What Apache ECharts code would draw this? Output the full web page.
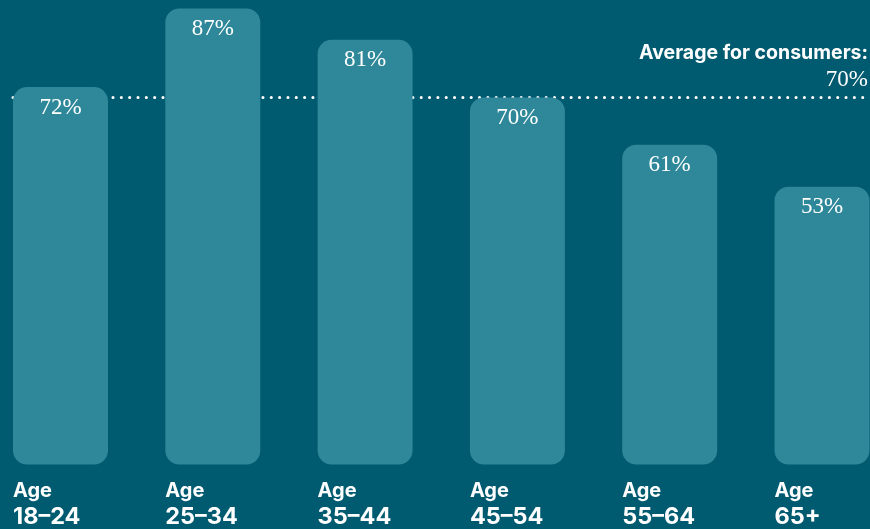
<!DOCTYPE html>
<html>
<head>
<meta charset="utf-8">
<title>Share by age group</title>
<script src="https://cdn.jsdelivr.net/npm/echarts@6/dist/echarts.min.js"></script>
<style>
  html, body { margin: 0; padding: 0; background: #005a70; }
  #chart { width: 870px; height: 529px; }
</style>
</head>
<body>
<div id="chart"></div>
<script>
// Age groups and their shares (%)
const ageGroups = ['18-24', '25-34', '35-44', '45-54', '55-64', '65+'];
const shares = [72, 87, 81, 70, 61, 53];
const averageShare = 70;
const averageLabel = 'Average for consumers:';
const valueMax = 88.6;

const chart = echarts.init(document.getElementById('chart'), null, { renderer: 'canvas' });

const sansBold = 'Inter, "Open Sans", "DejaVu Sans", sans-serif';
const serif = '"Liberation Serif", "DejaVu Serif", serif';

chart.setOption({
  backgroundColor: '#005a70',
  animation: false,
  grid: [
    // bars: band width chosen so bars sit edge to edge across the canvas
    { left: -15.65, right: -28.15, top: 0, bottom: 64.5, outerBoundsMode: 'none', containLabel: false },
    // average line spans the row of bars
    { left: 13, right: 2, top: 0, bottom: 64.5, outerBoundsMode: 'none', containLabel: false }
  ],
  xAxis: [
    {
      type: 'category',
      gridIndex: 0,
      data: ageGroups,
      axisLine: { show: false },
      axisTick: { show: false },
      axisLabel: {
        margin: 14,
        formatter: v => '{a|Age}\n{b|' + v.replace('-', '–') + '}',
        rich: {
          a: { width: 95, align: 'left', color: '#fff', fontFamily: sansBold, fontWeight: 700, fontSize: 20, lineHeight: 25 },
          b: { width: 95, align: 'left', color: '#fff', fontFamily: sansBold, fontWeight: 700, fontSize: 23.5, lineHeight: 27 }
        }
      }
    },
    { type: 'value', gridIndex: 1, show: false, min: 0, max: 1 }
  ],
  yAxis: [
    { type: 'value', gridIndex: 0, min: 0, max: valueMax, show: false, splitLine: { show: false } },
    { type: 'value', gridIndex: 1, min: 0, max: valueMax, show: false, splitLine: { show: false } }
  ],
  series: [
    {
      type: 'line',
      xAxisIndex: 1,
      yAxisIndex: 1,
      z: 1,
      data: [],
      silent: true,
      markLine: {
        z: 1,
        silent: true,
        symbol: ['none', 'none'],
        lineStyle: { color: '#ffffff', width: 3, type: [0.1, 8.23], cap: 'round' },
        label: {
          position: 'insideEndTop',
          distance: [0, 5],
          formatter: p => '{t|' + averageLabel + '}\n{v|' + p.value + '%}',
          rich: {
            t: { align: 'right', color: '#fff', fontFamily: sansBold, fontWeight: 700, fontSize: 19.5, lineHeight: 27 },
            v: { align: 'right', color: '#fff', fontFamily: serif, fontSize: 23, lineHeight: 26 }
          }
        },
        data: [{ yAxis: averageShare }]
      }
    },
    {
      type: 'bar',
      xAxisIndex: 0,
      yAxisIndex: 0,
      z: 2,
      data: shares,
      barWidth: 95,
      itemStyle: { color: '#2e8899', borderRadius: 14 },
      label: {
        show: true,
        position: 'insideTop',
        distance: 9,
        formatter: p => p.value + '%',
        color: '#ffffff',
        fontFamily: serif,
        fontSize: 23
      }
    }
  ]
});
</script>
</body>
</html>
